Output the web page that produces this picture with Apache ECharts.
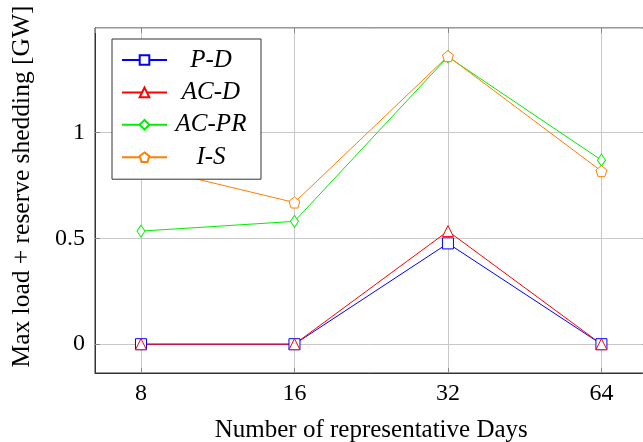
<!DOCTYPE html>
<html>
<head>
<meta charset="utf-8">
<script src="https://cdn.jsdelivr.net/npm/echarts@6/dist/echarts.min.js"></script>
<style>html,body{margin:0;padding:0;background:#fff}#c{width:643px;height:442px}</style>
</head>
<body>
<div id="c"></div>
<script>
var days = [8, 16, 32, 64];
var seriesNames = ['P-D', 'AC-D', 'AC-PR', 'I-S'];
var pD = [0, 0, 0.476, 0];
var acD = [0, 0, 0.534, 0];
var acPR = [0.534, 0.58, 1.357, 0.869];
var iS = [0.843, 0.669, 1.36, 0.817];
var yTicks = [0, 0.5, 1];

var FONT = 'Liberation Serif';
var pentagon = 'path://M0,-10 L9.51,-3.09 L5.88,8.09 L-5.88,8.09 L-9.51,-3.09 Z';

function pts(vals) { return days.map(function (d, i) { return [d, vals[i]]; }); }
function mk(name, vals, color, symbol, size) {
  return {
    name: name, type: 'line', data: pts(vals), symbol: symbol, symbolSize: size,
    showAllSymbol: true,
    lineStyle: { color: color, width: 1 },
    itemStyle: { color: '#fff', borderColor: color, borderWidth: 1 },
    emphasis: { disabled: true }, animation: false
  };
}

var chart = echarts.init(document.getElementById('c'));
var axisTickStyle = { show: true, inside: true, length: 5, lineStyle: { color: '#888' } };
chart.setOption({
  animation: false,
  backgroundColor: '#fff',
  grid: { left: 95, right: -4.5, top: 28, bottom: 69, show: true, borderColor: '#333', borderWidth: 1,
    backgroundColor: 'transparent', containLabel: false, outerBoundsMode: 'none' },
  legend: {
    data: seriesNames, orient: 'vertical', left: 112, top: 39,
    padding: [8.5, 11, 9.5, 9], itemGap: 7.4, itemWidth: 45, itemHeight: 12,
    backgroundColor: '#fff', borderColor: '#333', borderWidth: 1, borderRadius: 0,
    formatter: function (n) { return '{a|' + n + '}'; },
    textStyle: {
      fontFamily: FONT, fontSize: 25, fontStyle: 'italic', color: '#000', lineHeight: 25,
      rich: { a: { width: 78, align: 'center', fontFamily: FONT, fontSize: 25, fontStyle: 'italic', color: '#000', lineHeight: 25 } }
    }
  },
  xAxis: [{
    type: 'log', logBase: 2, min: 6.5, max: 78.8,
    name: 'Number of representative Days', nameLocation: 'middle', nameGap: 45,
    nameTextStyle: { fontFamily: FONT, fontSize: 25, color: '#000' },
    axisLine: { show: true, onZero: false, lineStyle: { color: '#333', width: 1 } },
    axisTick: axisTickStyle,
    axisLabel: { fontFamily: FONT, fontSize: 24, color: '#000', margin: 9, showMinLabel: false, showMaxLabel: false,
      formatter: function (v) { var r = Math.round(v); return days.indexOf(r) >= 0 ? String(r) : ''; } },
    splitLine: { show: true, lineStyle: { color: '#c8c8c8', width: 1 } }
  }, {
    type: 'log', logBase: 2, min: 6.5, max: 78.8, position: 'top',
    axisLine: { show: false, onZero: false }, axisTick: axisTickStyle, axisLabel: { show: false }, splitLine: { show: false }
  }],
  yAxis: [{
    type: 'value', min: -0.136, max: 1.493, splitNumber: 3,
    name: 'Max load + reserve shedding [GW]', nameLocation: 'middle', nameGap: 60,
    nameTextStyle: { fontFamily: FONT, fontSize: 25.5, color: '#000', padding: [0, 0, 0, 28] },
    axisLine: { show: true, onZero: false, lineStyle: { color: '#333', width: 1 } },
    axisTick: axisTickStyle,
    axisLabel: { fontFamily: FONT, fontSize: 24, color: '#000', margin: 10, showMinLabel: false, showMaxLabel: false,
      formatter: function (v) { var r = Math.round(v * 100) / 100; return yTicks.indexOf(r) >= 0 ? String(r) : ''; } },
    splitLine: { show: true, lineStyle: { color: '#c8c8c8', width: 1 } }
  }, {
    type: 'value', min: -0.136, max: 1.493, splitNumber: 3, position: 'right',
    axisLine: { show: false, onZero: false }, axisTick: axisTickStyle, axisLabel: { show: false }, splitLine: { show: false }
  }],
  series: [
    mk('P-D', pD, '#0000ff', 'rect', 11),
    mk('AC-D', acD, '#ff0000', 'triangle', 11),
    mk('AC-PR', acPR, '#00ee00', 'diamond', [8, 12]),
    mk('I-S', iS, '#ff8000', pentagon, 11)
  ]
});
</script>
</body>
</html>
